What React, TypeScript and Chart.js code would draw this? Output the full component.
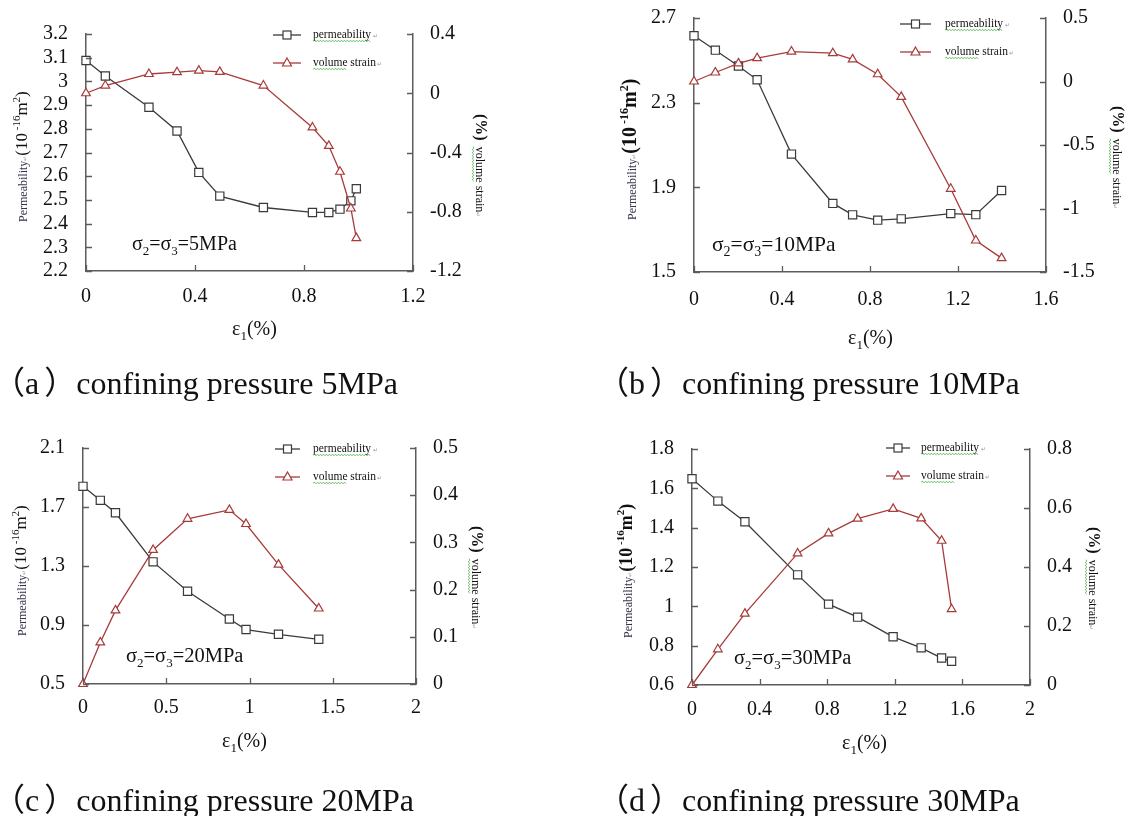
import React, { useEffect, useRef } from 'react';
import { Chart, registerables } from 'chart.js';
Chart.register(...registerables);

const W = 1136;
const H = 816;
const PAD = 60;
const CW = W + 2 * PAD;
const CH = H + 2 * PAD;
const SERIF = '"Liberation Serif", "Times New Roman", serif';
const CJK = '"Liberation Serif", "Noto Sans CJK SC", serif';

// ---------- (a) confining pressure 5 MPa ----------
const A_STRAIN = [0, 0.071, 0.231, 0.334, 0.414, 0.491, 0.651, 0.831, 0.891, 0.932, 0.972, 0.992];
const A_PERM = [3.088, 3.023, 2.891, 2.791, 2.616, 2.516, 2.468, 2.447, 2.447, 2.461, 2.496, 2.547];
const A_VOL = [0.0, 0.052, 0.13, 0.142, 0.153, 0.144, 0.052, -0.231, -0.355, -0.53, -0.778, -0.978];
const A_X_TICKS = ['0', '0.4', '0.8', '1.2'];
const A_PERM_TICKS = ['2.2', '2.3', '2.4', '2.5', '2.6', '2.7', '2.8', '2.9', '3', '3.1', '3.2'];
const A_VOL_TICKS = ['-1.2', '-0.8', '-0.4', '0', '0.4'];

// ---------- (b) confining pressure 10 MPa ----------
const B_STRAIN = [0, 0.097, 0.202, 0.287, 0.443, 0.631, 0.721, 0.835, 0.942, 1.167, 1.281, 1.398];
const B_PERM = [2.616, 2.548, 2.473, 2.408, 2.057, 1.824, 1.77, 1.745, 1.751, 1.776, 1.771, 1.885];
const B_VOL = [0, 0.071, 0.143, 0.184, 0.236, 0.223, 0.174, 0.057, -0.121, -0.845, -1.252, -1.391];
const B_X_TICKS = ['0', '0.4', '0.8', '1.2', '1.6'];
const B_PERM_TICKS = ['1.5', '1.9', '2.3', '2.7'];
const B_VOL_TICKS = ['-1.5', '-1', '-0.5', '0', '0.5'];

// ---------- (c) confining pressure 20 MPa ----------
const C_STRAIN = [0, 0.104, 0.195, 0.421, 0.628, 0.879, 0.979, 1.174, 1.416];
const C_PERM = [1.84, 1.745, 1.661, 1.328, 1.129, 0.941, 0.869, 0.837, 0.803];
const C_VOL = [0, 0.088, 0.156, 0.284, 0.35, 0.369, 0.339, 0.253, 0.16];
const C_X_TICKS = ['0', '0.5', '1', '1.5', '2'];
const C_PERM_TICKS = ['0.5', '0.9', '1.3', '1.7', '2.1'];
const C_VOL_TICKS = ['0', '0.1', '0.2', '0.3', '0.4', '0.5'];

// ---------- (d) confining pressure 30 MPa ----------
const D_STRAIN = [0, 0.153, 0.313, 0.625, 0.808, 0.98, 1.19, 1.356, 1.477, 1.536];
const D_PERM = [1.649, 1.535, 1.43, 1.16, 1.011, 0.945, 0.845, 0.789, 0.737, 0.721];
const D_VOL = [0, 0.121, 0.242, 0.446, 0.514, 0.564, 0.597, 0.565, 0.489, 0.257];
const D_X_TICKS = ['0', '0.4', '0.8', '1.2', '1.6', '2'];
const D_PERM_TICKS = ['0.6', '0.8', '1', '1.2', '1.4', '1.6', '1.8'];
const D_VOL_TICKS = ['0', '0.2', '0.4', '0.6', '0.8'];

const SERIES_NAMES = ['permeability', 'volume strain'];

const PERM_COLOR = '#3a3a3a';
const VOL_COLOR = '#a83a3a';
const AXIS_COLOR = '#5c5c5c';

type Run = { t: string; s: number; dy?: number; b?: boolean; c?: string; f?: string; g?: number };

interface PanelCfg {
  area: { l: number; r: number; t: number; b: number };
  strain: number[];
  perm: number[];
  vol: number[];
  xTicks: string[];
  permTicks: string[];
  volTicks: string[];
  xPad: number;
  legend: { x1: number; x2: number; tx: number; y1: number; y2: number };
  note: { x: number; y: number; s: number; text: string };
  xTitle: { x: number; y: number };
  leftTitle: { x: number; y: number; big: number; bold: boolean };
  rightTitle: { x: number; y: number };
  caption: { x: number; y: number; letter: string; text: string };
}

const PANELS: PanelCfg[] = [
  {
    area: { l: 86, r: 413, t: 34, b: 271 },
    strain: A_STRAIN, perm: A_PERM, vol: A_VOL,
    xTicks: A_X_TICKS, permTicks: A_PERM_TICKS, volTicks: A_VOL_TICKS,
    xPad: 14,
    legend: { x1: 273, x2: 301, tx: 313, y1: 35, y2: 63 },
    note: { x: 132, y: 250, s: 20, text: '5MPa' },
    xTitle: { x: 232, y: 335 },
    leftTitle: { x: 27, y: 222, big: 17, bold: false },
    rightTitle: { x: 476, y: 114 },
    caption: { x: 10, y: 394, letter: 'a', text: 'confining pressure 5MPa' },
  },
  {
    area: { l: 694, r: 1046, t: 18, b: 272 },
    strain: B_STRAIN, perm: B_PERM, vol: B_VOL,
    xTicks: B_X_TICKS, permTicks: B_PERM_TICKS, volTicks: B_VOL_TICKS,
    xPad: 16,
    legend: { x1: 900, x2: 931, tx: 945, y1: 24, y2: 52 },
    note: { x: 712, y: 251, s: 21.5, text: '10MPa' },
    xTitle: { x: 848, y: 344 },
    leftTitle: { x: 636, y: 220, big: 20, bold: true },
    rightTitle: { x: 1113, y: 106 },
    caption: { x: 614, y: 394, letter: 'b', text: 'confining pressure 10MPa' },
  },
  {
    area: { l: 83, r: 416, t: 448, b: 684 },
    strain: C_STRAIN, perm: C_PERM, vol: C_VOL,
    xTicks: C_X_TICKS, permTicks: C_PERM_TICKS, volTicks: C_VOL_TICKS,
    xPad: 12,
    legend: { x1: 275, x2: 300, tx: 313, y1: 449, y2: 477 },
    note: { x: 126, y: 662, s: 20.5, text: '20MPa' },
    xTitle: { x: 222, y: 747 },
    leftTitle: { x: 26, y: 636, big: 17, bold: false },
    rightTitle: { x: 472, y: 526 },
    caption: { x: 10, y: 811, letter: 'c', text: 'confining pressure 20MPa' },
  },
  {
    area: { l: 692, r: 1030, t: 449, b: 685 },
    strain: D_STRAIN, perm: D_PERM, vol: D_VOL,
    xTicks: D_X_TICKS, permTicks: D_PERM_TICKS, volTicks: D_VOL_TICKS,
    xPad: 13,
    legend: { x1: 886, x2: 910, tx: 921, y1: 448, y2: 476 },
    note: { x: 734, y: 664, s: 20.5, text: '30MPa' },
    xTitle: { x: 842, y: 749 },
    leftTitle: { x: 632, y: 638, big: 18, bold: true },
    rightTitle: { x: 1089, y: 527 },
    caption: { x: 614, y: 811, letter: 'd', text: 'confining pressure 30MPa' },
  },
];

function drawRuns(ctx: CanvasRenderingContext2D, list: Run[], x: number, y: number) {
  let cx = x;
  for (const r of list) {
    ctx.font = `${r.b ? 'bold ' : ''}${r.s}px ${r.f || SERIF}`;
    ctx.fillStyle = r.c || '#111';
    ctx.fillText(r.t, cx, y + (r.dy || 0));
    cx += ctx.measureText(r.t).width + (r.g || 0);
  }
  return cx;
}

function squiggle(ctx: CanvasRenderingContext2D, x1: number, x2: number, y: number) {
  ctx.save();
  ctx.strokeStyle = '#3fae3f';
  ctx.lineWidth = 0.8;
  ctx.beginPath();
  ctx.moveTo(x1, y);
  let up = true;
  for (let x = x1 + 1.5; x <= x2; x += 1.5) {
    ctx.lineTo(x, y + (up ? -0.8 : 0.8));
    up = !up;
  }
  ctx.stroke();
  ctx.restore();
}

function drawSquare(ctx: CanvasRenderingContext2D, x: number, y: number, color: string) {
  ctx.save();
  ctx.fillStyle = '#fff';
  ctx.strokeStyle = color;
  ctx.lineWidth = 1.2;
  ctx.fillRect(x - 4, y - 4, 8, 8);
  ctx.strokeRect(x - 4, y - 4, 8, 8);
  ctx.restore();
}

function drawTriangle(ctx: CanvasRenderingContext2D, x: number, y: number, color: string) {
  ctx.save();
  ctx.fillStyle = '#fff';
  ctx.strokeStyle = color;
  ctx.lineWidth = 1.2;
  ctx.beginPath();
  ctx.moveTo(x, y - 5);
  ctx.lineTo(x + 4.5, y + 3);
  ctx.lineTo(x - 4.5, y + 3);
  ctx.closePath();
  ctx.fill();
  ctx.stroke();
  ctx.restore();
}

function Panel({ cfg }: { cfg: PanelCfg }) {
  const ref = useRef<HTMLCanvasElement | null>(null);
  useEffect(() => {
    const canvas = ref.current;
    if (!canvas) return;
    const { area } = cfg;
    const num = (a: string[]) => a.map(Number);
    const xT = num(cfg.xTicks);
    const pT = num(cfg.permTicks);
    const vT = num(cfg.volTicks);
    const lbl = (labels: string[]) => (v: any) => {
      const i = labels.findIndex((l) => Math.abs(Number(l) - Number(v)) < 1e-9);
      return i >= 0 ? labels[i] : '';
    };
    const setTicks = (vals: number[]) => (s: any) => {
      s.ticks = vals.map((v) => ({ value: v }));
    };
    const tickFont = { family: SERIF, size: 20 };

    const textPlugin = {
      id: 'panelText',
      afterDraw(chart: any) {
        const ctx: CanvasRenderingContext2D = chart.ctx;
        const ca = chart.chartArea;
        const sx = chart.scales.x;
        const sy = chart.scales.y;
        const sy1 = chart.scales.y1;
        ctx.save();
        // inward tick marks
        ctx.strokeStyle = AXIS_COLOR;
        ctx.lineWidth = 1.3;
        ctx.beginPath();
        for (const v of xT) {
          const px = Math.round(sx.getPixelForValue(v)) + 0.5;
          ctx.moveTo(px, ca.bottom);
          ctx.lineTo(px, ca.bottom - 6);
        }
        for (const v of pT) {
          const py = Math.round(sy.getPixelForValue(v)) + 0.5;
          ctx.moveTo(ca.left, py);
          ctx.lineTo(ca.left + 6, py);
        }
        for (const v of vT) {
          const py = Math.round(sy1.getPixelForValue(v)) + 0.5;
          ctx.moveTo(ca.right, py);
          ctx.lineTo(ca.right - 6, py);
        }
        ctx.stroke();

        // texts, in page coordinates
        ctx.translate(PAD, PAD);
        ctx.textBaseline = 'alphabetic';
        ctx.textAlign = 'left';

        // legend
        const lg = cfg.legend;
        const mid = (lg.x1 + lg.x2) / 2;
        ctx.lineWidth = 1.3;
        ctx.strokeStyle = PERM_COLOR;
        ctx.beginPath();
        ctx.moveTo(lg.x1, lg.y1);
        ctx.lineTo(lg.x2, lg.y1);
        ctx.stroke();
        drawSquare(ctx, mid, lg.y1, PERM_COLOR);
        ctx.strokeStyle = VOL_COLOR;
        ctx.beginPath();
        ctx.moveTo(lg.x1, lg.y2);
        ctx.lineTo(lg.x2, lg.y2);
        ctx.stroke();
        drawTriangle(ctx, mid, lg.y2, VOL_COLOR);
        const LF = 11.5;
        ctx.font = `${LF}px ${SERIF}`;
        const w1 = ctx.measureText(SERIES_NAMES[0]).width;
        drawRuns(ctx, [{ t: SERIES_NAMES[0], s: LF }, { t: ' \u21b5', s: 6, c: '#999' }], lg.tx, lg.y1 + 3);
        squiggle(ctx, lg.tx, lg.tx + w1, lg.y1 + 6);
        ctx.font = `${LF}px ${SERIF}`;
        const w2 = ctx.measureText('volume').width;
        drawRuns(ctx, [{ t: SERIES_NAMES[1], s: LF }, { t: ' \u21b5', s: 6, c: '#999' }], lg.tx, lg.y2 + 3);
        squiggle(ctx, lg.tx, lg.tx + w2, lg.y2 + 6);

        // annotation sigma2 = sigma3 = ...
        const ns = cfg.note.s;
        const sub = Math.round(ns * 0.65);
        drawRuns(
          ctx,
          [
            { t: '\u03c3', s: ns },
            { t: '2', s: sub, dy: ns * 0.25 },
            { t: '=\u03c3', s: ns },
            { t: '3', s: sub, dy: ns * 0.25 },
            { t: '=' + cfg.note.text, s: ns },
          ],
          cfg.note.x,
          cfg.note.y
        );

        // x title
        drawRuns(
          ctx,
          [
            { t: '\u03b5', s: 20 },
            { t: '1', s: 13, dy: 5 },
            { t: '(%)', s: 20 },
          ],
          cfg.xTitle.x,
          cfg.xTitle.y
        );

        // left title (rotated, bottom to top)
        const lt = cfg.leftTitle;
        const bg = lt.big;
        ctx.save();
        ctx.translate(lt.x, lt.y);
        ctx.rotate(-Math.PI / 2);
        drawRuns(
          ctx,
          [
            { t: 'Permeability', s: 12, c: '#33334d' },
            { t: '\u21b5', s: 6, c: '#999' },
            { t: '(10', s: bg, b: lt.bold },
            { t: ' -16', s: Math.round(bg * 0.62), dy: -bg * 0.42, b: lt.bold },
            { t: 'm', s: bg, b: lt.bold },
            { t: '2', s: Math.round(bg * 0.62), dy: -bg * 0.42, b: lt.bold },
            { t: ')', s: bg, b: lt.bold },
          ],
          0,
          0
        );
        ctx.restore();

        // right title (rotated, top to bottom)
        const rt = cfg.rightTitle;
        ctx.save();
        ctx.translate(rt.x, rt.y);
        ctx.rotate(Math.PI / 2);
        const endP = drawRuns(ctx, [{ t: '(%)', s: 16, b: true }, { t: '  ', s: 12 }], 0, 0);
        ctx.font = `12px ${SERIF}`;
        const wv = ctx.measureText('volume').width;
        drawRuns(ctx, [{ t: 'volume strain', s: 12 }, { t: '\u21b5', s: 6, c: '#999' }], endP, 0);
        squiggle(ctx, endP, endP + wv, 3);
        ctx.restore();

        // caption
        const cp = cfg.caption;
        drawRuns(
          ctx,
          [
            { t: '\uff08', s: 32, f: CJK },
            { t: cp.letter, s: 32, g: 5 },
            { t: '\uff09', s: 32, f: CJK },
            { t: cp.text, s: 32 },
          ],
          cp.x - 17,
          cp.y
        );
        ctx.restore();
      },
    };

    const chart = new Chart(canvas, {
      type: 'line',
      data: {
        datasets: [
          {
            label: SERIES_NAMES[1],
            data: cfg.strain.map((x, i) => ({ x, y: cfg.vol[i] })),
            yAxisID: 'y1',
            borderColor: VOL_COLOR,
            borderWidth: 1.3,
            pointStyle: 'triangle',
            pointRadius: 5,
            pointBorderWidth: 1.2,
            pointBackgroundColor: '#fff',
            pointBorderColor: VOL_COLOR,
            tension: 0,
            fill: false,
            clip: false as any,
          },
          {
            label: SERIES_NAMES[0],
            data: cfg.strain.map((x, i) => ({ x, y: cfg.perm[i] })),
            yAxisID: 'y',
            borderColor: PERM_COLOR,
            borderWidth: 1.3,
            pointStyle: 'rect',
            pointRadius: 5.8,
            pointBorderWidth: 1.2,
            pointBackgroundColor: '#fff',
            pointBorderColor: PERM_COLOR,
            tension: 0,
            fill: false,
            clip: false as any,
          },
        ],
      },
      options: {
        responsive: false,
        animation: false,
        devicePixelRatio: 1,
        layout: { padding: { top: area.t + PAD, left: 0, right: 0, bottom: 0 }, autoPadding: false } as any,
        plugins: {
          legend: { display: false },
          tooltip: { enabled: false },
          title: { display: false },
        },
        scales: {
          x: {
            type: 'linear',
            min: xT[0],
            max: xT[xT.length - 1],
            afterBuildTicks: setTicks(xT),
            afterFit: (s: any) => {
              s.height = H + PAD - area.b;
            },
            grid: { display: false, drawTicks: false },
            border: { display: true, color: AXIS_COLOR, width: 1.5 },
            ticks: { font: tickFont, color: '#111', padding: cfg.xPad, maxRotation: 0, autoSkip: false, callback: lbl(cfg.xTicks) },
          },
          y: {
            type: 'linear',
            position: 'left',
            min: pT[0],
            max: pT[pT.length - 1],
            afterBuildTicks: setTicks(pT),
            afterFit: (s: any) => {
              s.width = area.l + PAD;
            },
            grid: { display: false, drawTicks: false },
            border: { display: true, color: AXIS_COLOR, width: 1.5 },
            ticks: { font: tickFont, color: '#111', padding: 18, autoSkip: false, callback: lbl(cfg.permTicks) },
          },
          y1: {
            type: 'linear',
            position: 'right',
            min: vT[0],
            max: vT[vT.length - 1],
            afterBuildTicks: setTicks(vT),
            afterFit: (s: any) => {
              s.width = W + PAD - area.r;
            },
            grid: { display: false, drawTicks: false },
            border: { display: true, color: AXIS_COLOR, width: 1.5 },
            ticks: { font: tickFont, color: '#111', padding: 17, autoSkip: false, callback: lbl(cfg.volTicks) },
          },
        },
      },
      plugins: [textPlugin],
    } as any);
    return () => chart.destroy();
  }, [cfg]);
  return (
    <canvas
      ref={ref}
      width={CW}
      height={CH}
      style={{ position: 'absolute', left: -PAD, top: -PAD, width: CW, height: CH }}
    />
  );
}

export default function App() {
  return (
    <div style={{ position: 'fixed', left: 0, top: 0, width: W, height: H, background: '#fff', overflow: 'hidden' }}>
      {PANELS.map((p, i) => (
        <Panel key={i} cfg={p} />
      ))}
    </div>
  );
}
